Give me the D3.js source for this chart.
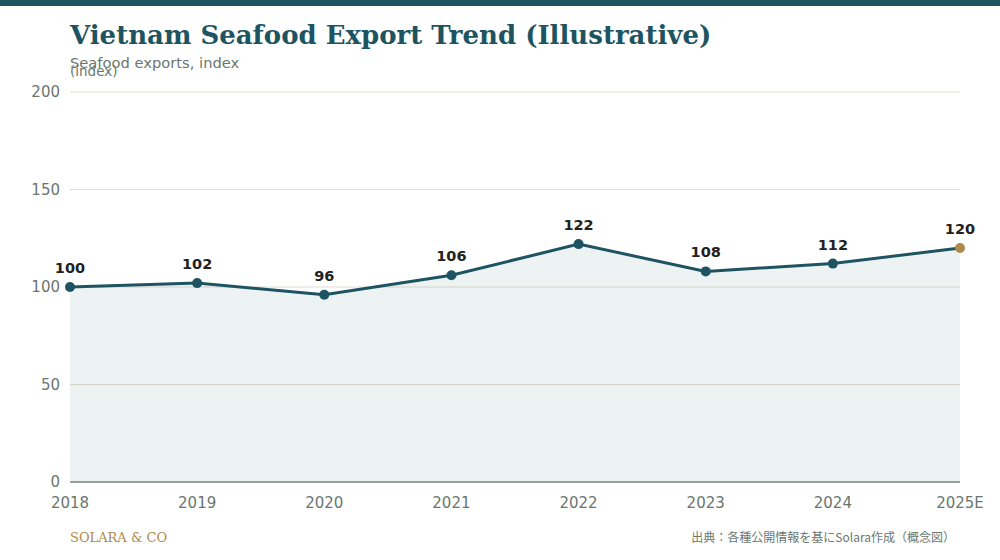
<!DOCTYPE html><html><head><meta charset="utf-8"><script src="https://cdn.jsdelivr.net/npm/d3@7"></script>
<style>body{margin:0;background:#fff}</style></head><body><svg id="c" width="1000" height="560"></svg>
<script>
const years=["2018","2019","2020","2021","2022","2023","2024","2025E"];
const values=[100,102,96,106,122,108,112,120];
const yTicks=[0,50,100,150,200];
const svg=d3.select("#c");
const m={l:70,r:960,t:92,b:482};
const x=d3.scalePoint().domain(years).range([m.l,m.r]);
const y=d3.scaleLinear().domain([0,200]).range([m.b,m.t]);
svg.append("rect").attr("width",1000).attr("height",6).attr("fill","#1e5461");
svg.append("text").attr("x",70).attr("y",44).attr("font-family","DejaVu Serif").attr("font-weight","bold").attr("font-size",26).attr("fill","#1e5461").text("Vietnam Seafood Export Trend (Illustrative)");
svg.append("text").attr("x",70).attr("y",68).attr("font-family","DejaVu Sans").attr("font-size",14.7).attr("fill","#6b7670").text("Seafood exports, index");
svg.append("text").attr("x",70).attr("y",76).attr("font-family","DejaVu Sans").attr("font-size",13.5).attr("fill","#6b7670").text("(index)");
yTicks.forEach(t=>{
 svg.append("line").attr("x1",m.l).attr("x2",m.r).attr("y1",y(t)).attr("y2",y(t)).attr("stroke",t==0?"#7a8580":"#e3ddd2").attr("stroke-width",t==0?1.5:1);
 svg.append("text").attr("x",60).attr("y",y(t)+5).attr("text-anchor","end").attr("font-family","DejaVu Sans").attr("font-size",15).attr("fill","#6b7670").text(t);
});
svg.append("path").datum(values).attr("d",d3.area().x((d,i)=>x(years[i])).y0(y(0)).y1(d=>y(d))).attr("fill","#1e5461").attr("opacity",0.08);
svg.append("path").datum(values).attr("d",d3.line().x((d,i)=>x(years[i])).y(d=>y(d))).attr("fill","none").attr("stroke","#1e5461").attr("stroke-width",3);
values.forEach((v,i)=>{
 svg.append("circle").attr("cx",x(years[i])).attr("cy",y(v)).attr("r",5).attr("fill",i==7?"#b08a4a":"#1e5461");
 svg.append("text").attr("x",x(years[i])).attr("y",y(v)-14).attr("text-anchor","middle").attr("font-family","DejaVu Sans").attr("font-weight","bold").attr("font-size",14.5).attr("fill","#222").text(v);
 svg.append("text").attr("x",x(years[i])).attr("y",508).attr("text-anchor","middle").attr("font-family","DejaVu Sans").attr("font-size",15).attr("fill","#6b7670").text(years[i]);
});
svg.append("text").attr("x",70).attr("y",542).attr("font-family","DejaVu Serif").attr("font-size",13).attr("fill","#b08a4a").text("SOLARA & CO");
svg.append("text").attr("x",955).attr("y",542).attr("text-anchor","end").attr("font-family","Noto Sans CJK JP").attr("font-size",12).attr("fill","#6b7670").text("出典：各種公開情報を基にSolara作成（概念図）");
</script></body></html>
